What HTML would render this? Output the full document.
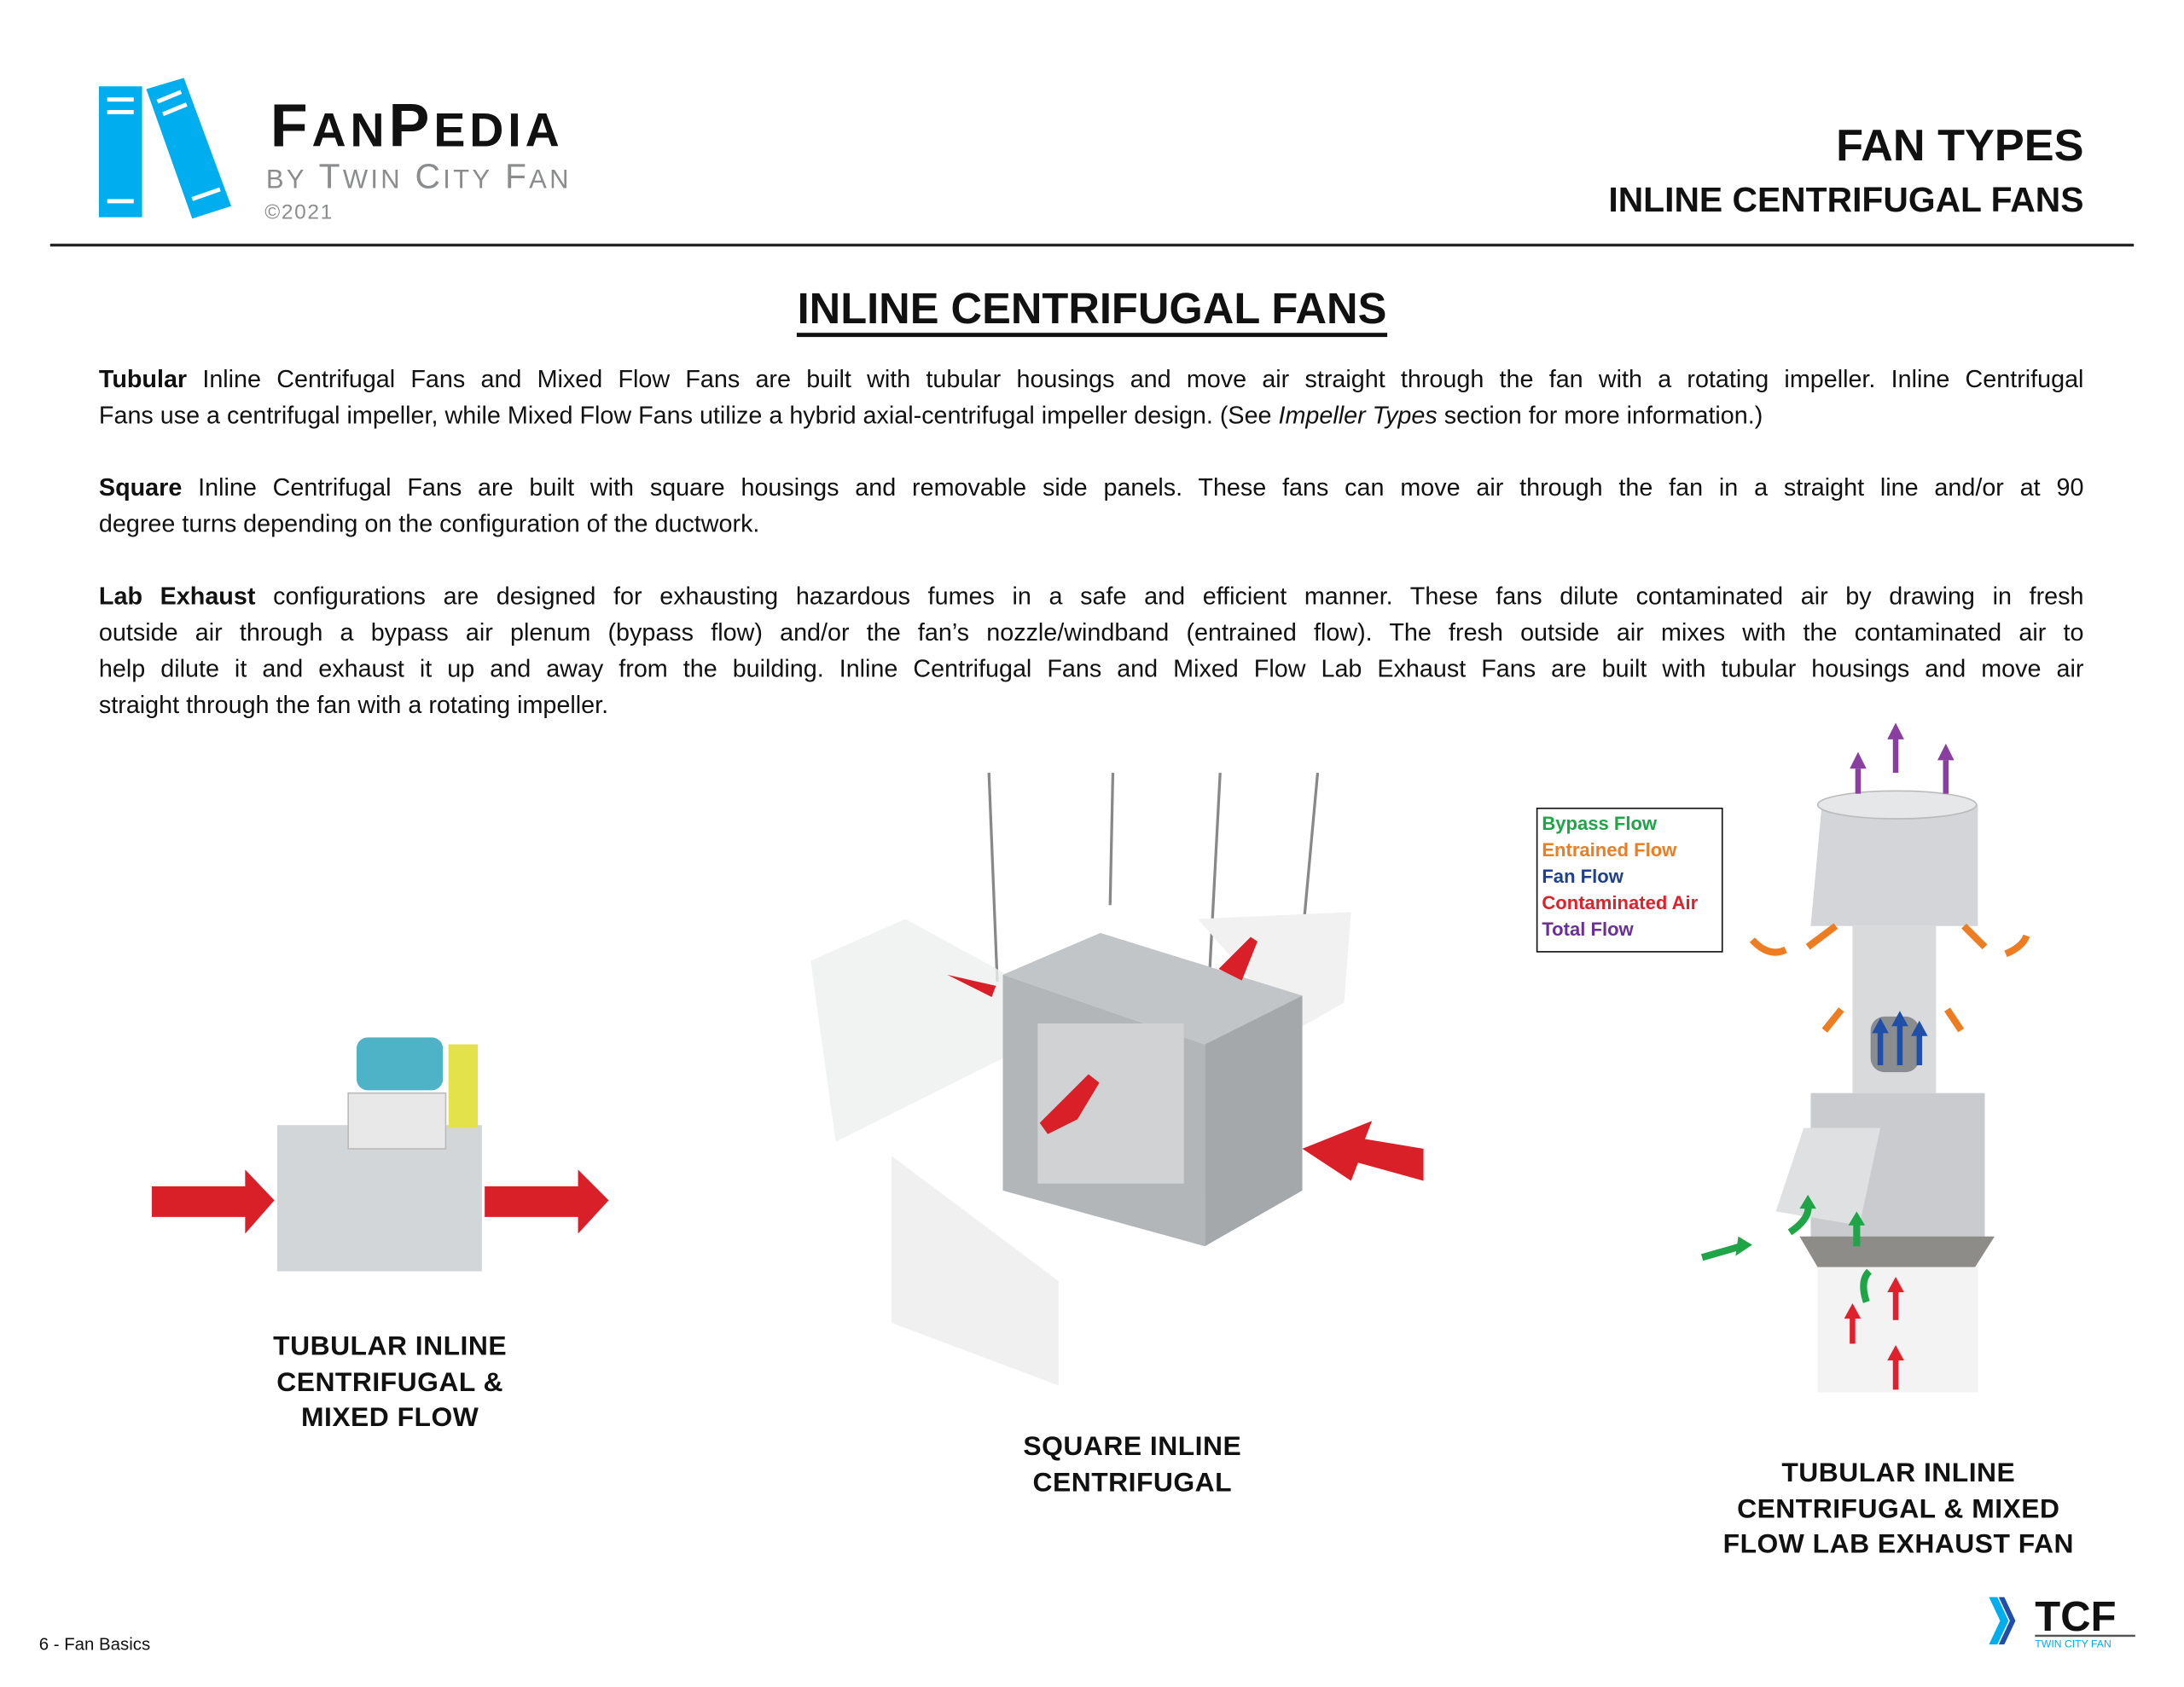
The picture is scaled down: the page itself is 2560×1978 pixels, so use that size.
<!DOCTYPE html>
<html><head><meta charset="utf-8"><style>
html,body{margin:0;padding:0;background:#fff;}
body{width:2560px;height:1978px;overflow:hidden;position:relative;}
#w{position:absolute;left:0;top:0;width:1568px;height:1211px;transform:scale(1.63265);transform-origin:0 0;font-family:"Liberation Sans",sans-serif;color:#111;}
.a{position:absolute;white-space:nowrap;}
.p{position:absolute;left:71px;width:1425px;font-size:17.6px;line-height:26px;}
.j{text-align:justify;text-align-last:justify;height:26px;}
.lab{position:absolute;text-align:center;font-weight:bold;font-size:19.5px;line-height:25.7px;letter-spacing:0.3px;}
.lg div{height:19px;font-size:13.5px;font-weight:bold;}
</style></head><body><div id="w">
<svg class="a" style="left:60px;top:50px" width="120" height="115" viewBox="60 50 120 115">
<rect x="71" y="62" width="31" height="94" fill="#00aeef"/>
<rect x="77" y="70" width="19" height="3" fill="#fff"/><rect x="77" y="79" width="19" height="3" fill="#fff"/><rect x="77" y="143" width="19" height="3" fill="#fff"/>
<polygon points="105,64 132,56 166,148 138,157" fill="#00aeef"/>
<line x1="113" y1="73" x2="130" y2="66" stroke="#fff" stroke-width="3"/><line x1="117" y1="82" x2="134" y2="75" stroke="#fff" stroke-width="3"/><line x1="138" y1="143" x2="158" y2="136" stroke="#fff" stroke-width="3"/>
</svg>
<div class="a" style="left:194px;top:66px;font-size:44px;font-weight:bold;letter-spacing:3px;">F<span style="font-size:34px">AN</span>P<span style="font-size:34px">EDIA</span></div>
<div class="a" style="left:191px;top:113px;font-size:25px;color:#8a8c8e;letter-spacing:2px;"><span style="font-size:19px">BY</span> T<span style="font-size:19px">WIN</span> C<span style="font-size:19px">ITY</span> F<span style="font-size:19px">AN</span></div>
<div class="a" style="left:190px;top:144px;font-size:15px;color:#8a8c8e;letter-spacing:1px;">©2021</div>
<div class="a" style="right:72px;top:86px;font-size:32px;font-weight:bold;">FAN TYPES</div>
<div class="a" style="right:72px;top:130px;font-size:25px;font-weight:bold;">INLINE CENTRIFUGAL FANS</div>
<div class="a" style="left:36px;top:175px;width:1496px;height:2px;background:#222;"></div>
<div class="a" style="left:0;width:1568px;text-align:center;top:204px;font-size:31px;font-weight:bold;"><span style="border-bottom:3px solid #111;">INLINE CENTRIFUGAL FANS</span></div>

<div class="p" style="top:259px">
<div class="j"><b>Tubular</b> Inline Centrifugal Fans and Mixed Flow Fans are built with tubular housings and move air straight through the fan with a rotating impeller. Inline Centrifugal</div>
<div>Fans use a centrifugal impeller, while Mixed Flow Fans utilize a hybrid axial-centrifugal impeller design. (See <i>Impeller Types</i> section for more information.)</div>
</div>
<div class="p" style="top:337px">
<div class="j"><b>Square</b> Inline Centrifugal Fans are built with square housings and removable side panels. These fans can move air through the fan in a straight line and/or at 90</div>
<div>degree turns depending on the configuration of the ductwork.</div>
</div>
<div class="p" style="top:415px">
<div class="j"><b>Lab Exhaust</b> configurations are designed for exhausting hazardous fumes in a safe and efficient manner. These fans dilute contaminated air by drawing in fresh</div>
<div class="j">outside air through a bypass air plenum (bypass flow) and/or the fan’s nozzle/windband (entrained flow). The fresh outside air mixes with the contaminated air to</div>
<div class="j">help dilute it and exhaust it up and away from the building. Inline Centrifugal Fans and Mixed Flow Lab Exhaust Fans are built with tubular housings and move air</div>
<div>straight through the fan with a rotating impeller.</div>
</div>

<svg class="a" style="left:0;top:0" width="1568" height="1211" viewBox="0 0 1568 1211">
<rect x="199" y="808" width="147" height="105" fill="#d3d6d9"/>
<rect x="250" y="785" width="70" height="40" fill="#e8e8e8" stroke="#bbb"/>
<rect x="256" y="745" width="62" height="38" rx="8" fill="#4fb3c7"/>
<rect x="322" y="750" width="21" height="60" fill="#e4e24a"/>
<polygon points="109,852 176,852 176,840 197,862 176,886 176,874 109,874" fill="#d92028"/>
<polygon points="348,852 415,852 415,840 437,862 415,886 415,874 348,874" fill="#d92028"/>
<g stroke="#888" stroke-width="2"><line x1="710" y1="555" x2="716" y2="705"/><line x1="799" y1="555" x2="797" y2="650"/><line x1="876" y1="555" x2="866" y2="745"/><line x1="946" y1="555" x2="935" y2="675"/></g>
<polygon points="582,690 650,660 760,720 720,760 600,820" fill="#eeefef" opacity="0.8"/>
<polygon points="640,830 760,920 760,995 640,950" fill="#f0f0f0"/>
<polygon points="860,660 970,655 965,720 930,740" fill="#f1f1f1"/>
<polygon points="720,700 790,670 935,715 865,750" fill="#c2c5c8"/>
<polygon points="720,700 865,750 865,895 720,855" fill="#b3b6b9"/>
<polygon points="865,750 935,715 935,855 865,895" fill="#a4a8ab"/>
<rect x="745" y="735" width="105" height="115" fill="#d0d2d4"/>
<polygon points="680,700 715,708 712,716" fill="#d92028"/>
<polygon points="785,775 750,810 770,800" fill="#d92028" stroke="#d92028" stroke-width="10"/>
<polygon points="880,695 900,675 890,700" fill="#d92028" stroke="#d92028" stroke-width="6"/>
<polygon points="935,825 985,805 980,818 1022,825 1022,848 975,835 970,848" fill="#d92028"/>
<polygon points="1308,578 1420,578 1420,665 1300,665" fill="#d3d5d8"/>
<ellipse cx="1362" cy="578" rx="57" ry="10" fill="#e6e7e9" stroke="#bbb"/>
<rect x="1330" y="665" width="60" height="120" fill="#d8dadc"/>
<rect x="1343" y="730" width="35" height="40" rx="10" fill="#8a8d90"/>
<polygon points="1300,785 1425,785 1425,890 1300,890" fill="#c9cbce"/>
<polygon points="1295,810 1350,810 1335,880 1275,870" fill="#dfe0e2"/>
<polygon points="1292,888 1432,888 1418,910 1305,910" fill="#8e8c88"/>
<rect x="1305" y="910" width="115" height="90" fill="#f3f3f3"/>
<g stroke-width="4" fill="none">
<path d="M1334 570V552M1361 555V528M1397 570V546" stroke="#8a3ea0"/>
<path d="M1350 765V740M1364 765V735M1378 765V742" stroke="#1f4fa8"/>
<path d="M1330 965V945M1361 948V926M1361 998V975" stroke="#e0202a"/>
<path d="M1222 903L1250 895M1285 885Q1300 875 1298 865M1333 895V878M1340 935Q1335 920 1342 913" stroke="#1fa548" stroke-width="5"/>
<path d="M1258 675Q1270 688 1282 682M1298 680L1318 665M1440 685Q1452 680 1455 672M1410 665L1425 680M1310 740L1322 725M1398 725L1408 740" stroke="#ee7d22" stroke-width="5"/>
</g>
<g fill="#8a3ea0"><polygon points="1328,552 1340,552 1334,540"/><polygon points="1355,531 1367,531 1361,519"/><polygon points="1391,546 1403,546 1397,534"/></g>
<g fill="#e0202a"><polygon points="1324,947 1336,947 1330,936"/><polygon points="1355,928 1367,928 1361,917"/><polygon points="1355,977 1367,977 1361,966"/></g>
<g fill="#1f4fa8"><polygon points="1344,742 1356,742 1350,731"/><polygon points="1358,737 1370,737 1364,726"/><polygon points="1372,744 1384,744 1378,733"/></g>
<g fill="#1fa548"><polygon points="1248,888 1258,894 1246,902"/><polygon points="1292,868 1304,868 1298,858"/><polygon points="1327,880 1339,880 1333,870"/></g>
<rect x="1103.5" y="580.5" width="133" height="103" fill="#fff" stroke="#111"/>
</svg>
<div class="a lg" style="left:1107px;top:584px;">
<div style="color:#1fa548">Bypass Flow</div><div style="color:#ee7d22">Entrained Flow</div><div style="color:#1f3f8f">Fan Flow</div><div style="color:#e0202a">Contaminated Air</div><div style="color:#6b2f9a">Total Flow</div>
</div>

<div class="lab" style="left:150px;width:260px;top:955px">TUBULAR INLINE<br>CENTRIFUGAL &amp;<br>MIXED FLOW</div>
<div class="lab" style="left:683px;width:260px;top:1027px">SQUARE INLINE<br>CENTRIFUGAL</div>
<div class="lab" style="left:1213px;width:300px;top:1046px">TUBULAR INLINE<br>CENTRIFUGAL &amp; MIXED<br>FLOW LAB EXHAUST FAN</div>

<div class="a" style="left:28px;top:1174px;font-size:12.5px;">6 - Fan Basics</div>
<svg class="a" style="left:1425px;top:1143px" width="110" height="45" viewBox="0 0 110 45">
<polygon points="3,4 9,4 17,21 9,38 3,38 11,21" fill="#00aeef"/><polygon points="10,4 14,4 22,21 14,38 10,38 18,21" fill="#1f4fa8"/>
<text x="36" y="28" font-family="Liberation Sans" font-weight="bold" font-size="30" fill="#111">TCF</text>
<rect x="36" y="31" width="72" height="1.5" fill="#555"/>
<text x="36" y="40" font-family="Liberation Sans" font-size="7.5" fill="#00aeef">TWIN CITY FAN</text>
</svg>
</div></body></html>
